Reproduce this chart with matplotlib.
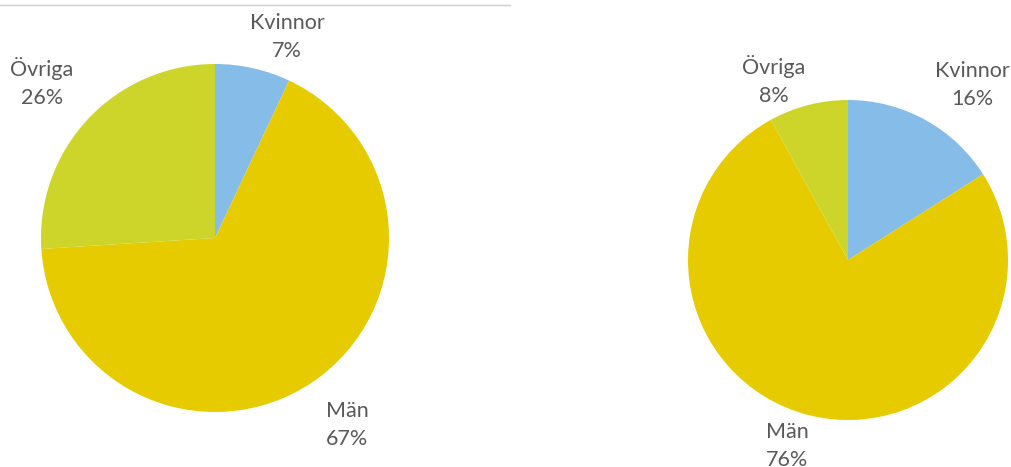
import matplotlib
matplotlib.use("Agg")
import matplotlib.pyplot as plt
from matplotlib.lines import Line2D

# data
categories = ['Kvinnor', 'Män', 'Övriga']
left_values = [7, 67, 26]
right_values = [16, 76, 8]
colors = ['#85BCE8', '#E6CB00', '#CDD42A']

plt.rcParams['font.family'] = ['Lato', 'DejaVu Sans']

W, H = 1011, 467
fig = plt.figure(figsize=(W / 100, H / 100), dpi=100)

def draw_pie(values, cx, cy, r, label_offsets):
    box = 600
    ax = fig.add_axes([(cx - box / 2) / W, (H - cy - box / 2) / H, box / W, box / H])
    labels = [f'{c}\n{v}%' for c, v in zip(categories, values)]
    wedges, texts = ax.pie(values, colors=colors, startangle=90, counterclock=False,
                           radius=r, labels=labels,
                           wedgeprops=dict(linewidth=0))
    # data labels sit outside the slices like in excel
    for t, off in zip(texts, label_offsets):
        t.set_position(off)
        t.set_ha('center')
        t.set_va('center')
        t.set_color('#595959')
        t.set_fontsize(15.5)
        t.set_linespacing(1.5)
    ax.set_xlim(-box / 2, box / 2)
    ax.set_ylim(-box / 2, box / 2)
    ax.axis('off')

draw_pie(left_values, 215, 238, 174, [(72, 201), (132, -187), (-173, 155)])
draw_pie(right_values, 848, 260, 160, [(124, 175), (-61, -186), (-74, 180)])

# thin grey rule on top of the left chart
fig.add_artist(Line2D([0, 510 / W], [1 - 5 / H] * 2, color='#d0d0d0', lw=1))

fig.savefig('out.png', dpi=100)
